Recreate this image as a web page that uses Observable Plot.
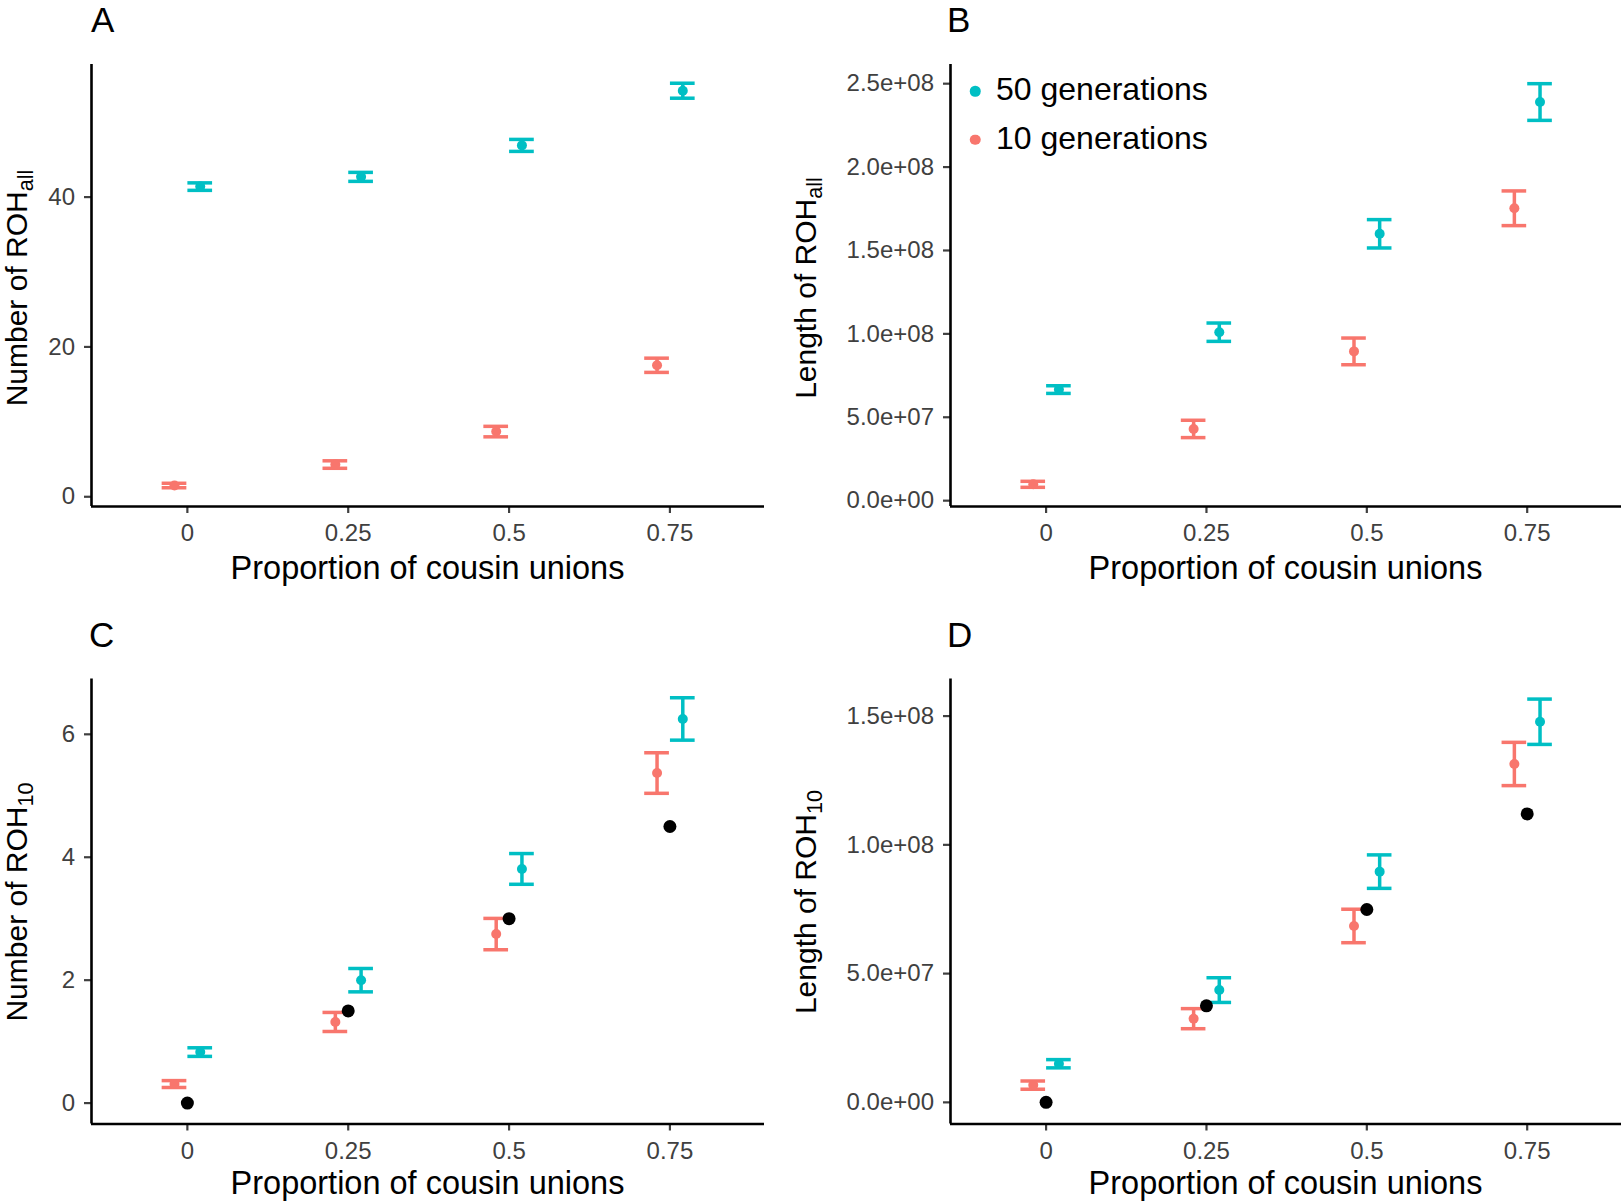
<!DOCTYPE html>
<html>
<head>
<meta charset="utf-8">
<script src="https://cdn.jsdelivr.net/npm/d3@7"></script>
<script src="https://cdn.jsdelivr.net/npm/@observablehq/plot@0.6"></script>
<style>
  html, body { margin: 0; padding: 0; background: #fff; }
  #root { position: relative; width: 1624px; height: 1203px; background: #fff; overflow: hidden;
          font-family: "Liberation Sans", Arial, Helvetica, sans-serif; color: #000; }
  .abs { position: absolute; white-space: nowrap; line-height: 1; }
  .letter { font-size: 35px; }
  .xtitle { font-size: 32.5px; transform: translate(-50%, -50%); }
  .ytitle { font-size: 30px; transform: translate(-50%, -50%) rotate(-90deg); }
  .ytitle sub { font-size: 0.72em; vertical-align: -0.28em; line-height: 0; }
  .legtext { font-size: 32px; }
  .legdot { position: absolute; width: 10.5px; height: 10.5px; border-radius: 50%; transform: translate(-50%, -50%); }
</style>
</head>
<body>
<div id="root"></div>
<script>
// ---------------- data ----------------
const proportions = [0, 0.25, 0.5, 0.75];
const xTickLabels = ["0", "0.25", "0.5", "0.75"];
const seriesNames = ["50 generations", "10 generations"];
const seriesColors = ["#00BFC4", "#F8766D"];

// Panel A: number of ROH_all
const numAll50 = [41.4, 42.7, 46.9, 54.2];
const numAll50Err = [0.5, 0.6, 0.8, 1.0];
const numAll10 = [1.5, 4.3, 8.7, 17.55];
const numAll10Err = [0.3, 0.5, 0.7, 0.95];
const yTicksA = [0, 20, 40];
const yTickLabelsA = ["0", "20", "40"];

// Panel B: length of ROH_all
const lenAll50 = [6.66e7, 1.01e8, 1.60e8, 2.39e8];
const lenAll50Err = [2.3e6, 5.5e6, 8.5e6, 1.1e7];
const lenAll10 = [9.8e6, 4.3e7, 8.95e7, 1.753e8];
const lenAll10Err = [1.8e6, 5.2e6, 8.0e6, 1.04e7];
const yTicksB = [0, 5e7, 1e8, 1.5e8, 2e8, 2.5e8];
const yTickLabelsB = ["0.0e+00", "5.0e+07", "1.0e+08", "1.5e+08", "2.0e+08", "2.5e+08"];

// Panel C: number of ROH_10
const num10_50 = [0.83, 2.0, 3.81, 6.25];
const num10_50Err = [0.07, 0.19, 0.25, 0.345];
const num10_10 = [0.31, 1.32, 2.75, 5.37];
const num10_10Err = [0.056, 0.155, 0.255, 0.33];
const num10Expected = [0, 1.5, 3, 4.5];
const yTicksC = [0, 2, 4, 6];
const yTickLabelsC = ["0", "2", "4", "6"];

// Panel D: length of ROH_10
const len10_50 = [1.5e7, 4.36e7, 8.96e7, 1.478e8];
const len10_50Err = [1.6e6, 4.8e6, 6.5e6, 8.8e6];
const len10_10 = [6.7e6, 3.25e7, 6.85e7, 1.314e8];
const len10_10Err = [1.6e6, 3.9e6, 6.5e6, 8.4e6];
const len10Expected = [0, 3.75e7, 7.49e7, 1.12e8];
const yTicksD = [0, 5e7, 1e8, 1.5e8];
const yTickLabelsD = ["0.0e+00", "5.0e+07", "1.0e+08", "1.5e+08"];

// ---------------- drawing ----------------
const root = document.getElementById("root");
const FONT = "'Liberation Sans', Arial, Helvetica, sans-serif";
const xDomain = [-0.149, 0.897];
const dodge = {"50 generations": 0.02, "10 generations": -0.02};
const capHalf = 0.0192;

function rows(means, errs, series) {
  return proportions.map((p, i) => ({p, series, mean: means[i], lo: means[i] - errs[i], hi: means[i] + errs[i]}));
}

function panel({left, top, width, height, mL, mR, mT, mB, yDomain, yTicks, yTickLabels, data, expected}) {
  const xs = d => d.p + dodge[d.series];
  const marks = [
    Plot.axisX({ticks: proportions, tickFormat: d => xTickLabels[proportions.indexOf(d)],
      tickSize: 7, tickPadding: 10.5, strokeWidth: 2.2, color: "#404040", fontSize: 24, label: null}),
    Plot.axisY({ticks: yTicks, tickFormat: d => yTickLabels[yTicks.indexOf(d)],
      tickSize: 7, tickPadding: 9.5, strokeWidth: 2.2, color: "#404040", fontSize: 24, label: null}),
    Plot.ruleX(data, {x: xs, y1: "lo", y2: "hi", stroke: "series", strokeWidth: 3.5}),
    Plot.ruleY(data, {y: "hi", x1: d => xs(d) - capHalf, x2: d => xs(d) + capHalf, stroke: "series", strokeWidth: 3.5}),
    Plot.ruleY(data, {y: "lo", x1: d => xs(d) - capHalf, x2: d => xs(d) + capHalf, stroke: "series", strokeWidth: 3.5}),
    Plot.dot(data, {x: xs, y: "mean", fill: "series", r: 5, stroke: null}),
  ];
  if (expected) {
    marks.push(Plot.dot(proportions.map((p, i) => ({p, v: expected[i]})), {x: "p", y: "v", fill: "black", r: 6.5}));
  }
  marks.push(Plot.ruleY([yDomain[0]], {stroke: "black", strokeWidth: 2.6}));
  marks.push(Plot.ruleX([xDomain[0]], {stroke: "black", strokeWidth: 2.6}));
  const svg = Plot.plot({
    width, height, marginLeft: mL, marginRight: mR, marginTop: mT, marginBottom: mB,
    style: {fontFamily: FONT, fontSize: "24px", background: "transparent", overflow: "visible"},
    x: {domain: xDomain, axis: null},
    y: {domain: yDomain, axis: null},
    color: {domain: seriesNames, range: seriesColors},
    marks
  });
  svg.style.position = "absolute";
  svg.style.left = left + "px";
  svg.style.top = top + "px";
  root.appendChild(svg);
}

function addDiv(cls, html, styles) {
  const d = document.createElement("div");
  d.className = "abs " + cls;
  d.innerHTML = html;
  Object.assign(d.style, styles);
  root.appendChild(d);
  return d;
}

// Panel A
panel({left: 0, top: 0, width: 812, height: 600, mL: 91, mR: 48, mT: 64, mB: 94,
  yDomain: [-1.3, 57.7], yTicks: yTicksA, yTickLabels: yTickLabelsA,
  data: [...rows(numAll50, numAll50Err, seriesNames[0]), ...rows(numAll10, numAll10Err, seriesNames[1])]});
// Panel B
panel({left: 812, top: 0, width: 812, height: 600, mL: 138, mR: 3, mT: 64, mB: 94,
  yDomain: [-0.035e8, 2.615e8], yTicks: yTicksB, yTickLabels: yTickLabelsB,
  data: [...rows(lenAll50, lenAll50Err, seriesNames[0]), ...rows(lenAll10, lenAll10Err, seriesNames[1])]});
// Panel C
panel({left: 0, top: 600, width: 812, height: 603, mL: 91, mR: 48, mT: 78.5, mB: 79.5,
  yDomain: [-0.34, 6.9], yTicks: yTicksC, yTickLabels: yTickLabelsC,
  data: [...rows(num10_50, num10_50Err, seriesNames[0]), ...rows(num10_10, num10_10Err, seriesNames[1])],
  expected: num10Expected});
// Panel D
panel({left: 812, top: 600, width: 812, height: 603, mL: 138, mR: 3, mT: 78.5, mB: 79.5,
  yDomain: [-0.084e8, 1.644e8], yTicks: yTicksD, yTickLabels: yTickLabelsD,
  data: [...rows(len10_50, len10_50Err, seriesNames[0]), ...rows(len10_10, len10_10Err, seriesNames[1])],
  expected: len10Expected});

// Panel letters
addDiv("letter", "A", {left: "91px", top: "2px"});
addDiv("letter", "B", {left: "947px", top: "2px"});
addDiv("letter", "C", {left: "89px", top: "617px"});
addDiv("letter", "D", {left: "947px", top: "617px"});

// x titles
const xTitle = "Proportion of cousin unions";
addDiv("xtitle", xTitle, {left: "427.5px", top: "567.5px"});
addDiv("xtitle", xTitle, {left: "1285.5px", top: "567.5px"});
addDiv("xtitle", xTitle, {left: "427.5px", top: "1183px"});
addDiv("xtitle", xTitle, {left: "1285.5px", top: "1183px"});

// y titles
addDiv("ytitle", "Number of ROH<sub>all</sub>", {left: "17px", top: "288px"});
addDiv("ytitle", "Length of ROH<sub>all</sub>", {left: "806px", top: "288px"});
addDiv("ytitle", "Number of ROH<sub>10</sub>", {left: "17px", top: "902px"});
addDiv("ytitle", "Length of ROH<sub>10</sub>", {left: "806px", top: "902px"});

// Legend (inside panel B)
const legY = [89, 137.7];
seriesNames.forEach((name, i) => {
  const dot = document.createElement("div");
  dot.className = "legdot";
  Object.assign(dot.style, {left: "975px", top: (legY[i] + 2) + "px", background: seriesColors[i]});
  root.appendChild(dot);
  addDiv("legtext", name, {left: "996px", top: (legY[i] - 16) + "px"});
});
</script>
</body>
</html>
